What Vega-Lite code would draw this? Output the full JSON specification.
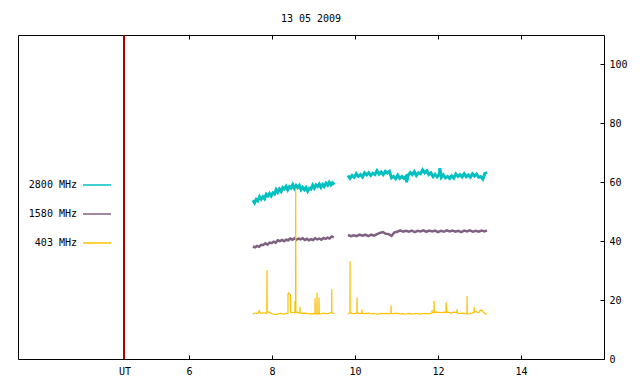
{
  "$schema": "https://vega.github.io/schema/vega-lite/v6.json",
  "width": 586,
  "height": 324,
  "autosize": "none",
  "padding": {"left": 18, "top": 35, "right": 36, "bottom": 25},
  "background": "white",
  "title": {"text": "13 05 2009", "font": "DejaVu Sans Mono", "fontSize": 10, "fontWeight": "normal", "color": "black", "offset": 11, "anchor": "middle"},
  "config": {
    "view": {"stroke": "black", "strokeWidth": 1},
    "axis": {"labelFont": "DejaVu Sans Mono", "labelFontSize": 10, "labelColor": "black", "tickColor": "black", "grid": false, "domain": false, "title": null},
    "legend": {"labelFont": "DejaVu Sans Mono", "labelFontSize": 10, "labelColor": "black"}
  },
  "data": {"values": [
    {"s":"2800 MHz","g":1,"t":7.54,"v":53.9},{"s":"2800 MHz","g":1,"t":7.58,"v":53.0},{"s":"2800 MHz","g":1,"t":7.62,"v":54.2},{"s":"2800 MHz","g":1,"t":7.66,"v":53.7},{"s":"2800 MHz","g":1,"t":7.70,"v":55.1},{"s":"2800 MHz","g":1,"t":7.74,"v":54.3},{"s":"2800 MHz","g":1,"t":7.78,"v":55.1},{"s":"2800 MHz","g":1,"t":7.82,"v":54.4},{"s":"2800 MHz","g":1,"t":7.86,"v":55.9},{"s":"2800 MHz","g":1,"t":7.90,"v":55.3},
    {"s":"2800 MHz","g":1,"t":7.94,"v":56.2},{"s":"2800 MHz","g":1,"t":7.98,"v":55.4},{"s":"2800 MHz","g":1,"t":8.02,"v":56.4},{"s":"2800 MHz","g":1,"t":8.06,"v":56.0},{"s":"2800 MHz","g":1,"t":8.10,"v":57.5},{"s":"2800 MHz","g":1,"t":8.14,"v":56.6},{"s":"2800 MHz","g":1,"t":8.18,"v":57.7},{"s":"2800 MHz","g":1,"t":8.22,"v":56.9},{"s":"2800 MHz","g":1,"t":8.26,"v":58.2},{"s":"2800 MHz","g":1,"t":8.30,"v":57.7},
    {"s":"2800 MHz","g":1,"t":8.34,"v":58.6},{"s":"2800 MHz","g":1,"t":8.38,"v":57.4},{"s":"2800 MHz","g":1,"t":8.42,"v":58.5},{"s":"2800 MHz","g":1,"t":8.46,"v":58.0},{"s":"2800 MHz","g":1,"t":8.50,"v":59.2},{"s":"2800 MHz","g":1,"t":8.54,"v":57.9},{"s":"2800 MHz","g":1,"t":8.58,"v":58.9},{"s":"2800 MHz","g":1,"t":8.62,"v":58.2},{"s":"2800 MHz","g":1,"t":8.66,"v":58.9},{"s":"2800 MHz","g":1,"t":8.70,"v":57.5},
    {"s":"2800 MHz","g":1,"t":8.74,"v":58.3},{"s":"2800 MHz","g":1,"t":8.78,"v":57.5},{"s":"2800 MHz","g":1,"t":8.82,"v":58.2},{"s":"2800 MHz","g":1,"t":8.86,"v":57.0},{"s":"2800 MHz","g":1,"t":8.90,"v":58.0},{"s":"2800 MHz","g":1,"t":8.94,"v":57.7},{"s":"2800 MHz","g":1,"t":8.98,"v":59.0},{"s":"2800 MHz","g":1,"t":9.02,"v":58.0},{"s":"2800 MHz","g":1,"t":9.06,"v":59.1},{"s":"2800 MHz","g":1,"t":9.10,"v":58.6},
    {"s":"2800 MHz","g":1,"t":9.14,"v":59.4},{"s":"2800 MHz","g":1,"t":9.18,"v":58.3},{"s":"2800 MHz","g":1,"t":9.22,"v":59.3},{"s":"2800 MHz","g":1,"t":9.26,"v":58.6},{"s":"2800 MHz","g":1,"t":9.30,"v":59.7},{"s":"2800 MHz","g":1,"t":9.34,"v":59.0},{"s":"2800 MHz","g":1,"t":9.38,"v":60.0},{"s":"2800 MHz","g":1,"t":9.42,"v":59.1},{"s":"2800 MHz","g":1,"t":9.46,"v":59.8},{"s":"2800 MHz","g":1,"t":9.50,"v":59.2},
    {"s":"2800 MHz","g":2,"t":9.83,"v":62.3},{"s":"2800 MHz","g":2,"t":9.88,"v":61.3},{"s":"2800 MHz","g":2,"t":9.93,"v":62.3},{"s":"2800 MHz","g":2,"t":9.98,"v":61.7},{"s":"2800 MHz","g":2,"t":10.03,"v":62.9},{"s":"2800 MHz","g":2,"t":10.08,"v":62.0},{"s":"2800 MHz","g":2,"t":10.13,"v":62.6},{"s":"2800 MHz","g":2,"t":10.18,"v":61.8},{"s":"2800 MHz","g":2,"t":10.23,"v":63.2},{"s":"2800 MHz","g":2,"t":10.28,"v":62.5},
    {"s":"2800 MHz","g":2,"t":10.33,"v":63.2},{"s":"2800 MHz","g":2,"t":10.38,"v":62.3},{"s":"2800 MHz","g":2,"t":10.43,"v":63.1},{"s":"2800 MHz","g":2,"t":10.48,"v":62.6},{"s":"2800 MHz","g":2,"t":10.53,"v":63.9},{"s":"2800 MHz","g":2,"t":10.58,"v":62.8},{"s":"2800 MHz","g":2,"t":10.63,"v":63.5},{"s":"2800 MHz","g":2,"t":10.68,"v":62.6},{"s":"2800 MHz","g":2,"t":10.73,"v":63.7},{"s":"2800 MHz","g":2,"t":10.78,"v":63.1},
    {"s":"2800 MHz","g":2,"t":10.83,"v":63.7},{"s":"2800 MHz","g":2,"t":10.88,"v":61.5},{"s":"2800 MHz","g":2,"t":10.93,"v":62.0},{"s":"2800 MHz","g":2,"t":10.98,"v":61.2},{"s":"2800 MHz","g":2,"t":11.03,"v":62.4},{"s":"2800 MHz","g":2,"t":11.08,"v":61.3},{"s":"2800 MHz","g":2,"t":11.13,"v":62.0},{"s":"2800 MHz","g":2,"t":11.18,"v":61.3},{"s":"2800 MHz","g":2,"t":11.23,"v":62.0},{"s":"2800 MHz","g":2,"t":11.245,"v":60.0},
    {"s":"2800 MHz","g":2,"t":11.28,"v":62.2},{"s":"2800 MHz","g":2,"t":11.33,"v":63.3},{"s":"2800 MHz","g":2,"t":11.38,"v":62.6},{"s":"2800 MHz","g":2,"t":11.43,"v":63.6},{"s":"2800 MHz","g":2,"t":11.48,"v":62.3},{"s":"2800 MHz","g":2,"t":11.53,"v":63.2},{"s":"2800 MHz","g":2,"t":11.58,"v":62.9},{"s":"2800 MHz","g":2,"t":11.63,"v":64.2},{"s":"2800 MHz","g":2,"t":11.68,"v":63.2},{"s":"2800 MHz","g":2,"t":11.73,"v":63.9},
    {"s":"2800 MHz","g":2,"t":11.78,"v":62.6},{"s":"2800 MHz","g":2,"t":11.83,"v":63.2},{"s":"2800 MHz","g":2,"t":11.88,"v":61.9},{"s":"2800 MHz","g":2,"t":11.93,"v":62.7},{"s":"2800 MHz","g":2,"t":11.98,"v":61.8},{"s":"2800 MHz","g":2,"t":12.03,"v":62.6},{"s":"2800 MHz","g":2,"t":12.045,"v":64.8},{"s":"2800 MHz","g":2,"t":12.08,"v":61.7},{"s":"2800 MHz","g":2,"t":12.13,"v":62.5},{"s":"2800 MHz","g":2,"t":12.18,"v":61.5},
    {"s":"2800 MHz","g":2,"t":12.23,"v":62.0},{"s":"2800 MHz","g":2,"t":12.28,"v":61.3},{"s":"2800 MHz","g":2,"t":12.33,"v":62.2},{"s":"2800 MHz","g":2,"t":12.38,"v":61.4},{"s":"2800 MHz","g":2,"t":12.43,"v":62.8},{"s":"2800 MHz","g":2,"t":12.48,"v":62.0},{"s":"2800 MHz","g":2,"t":12.53,"v":62.6},{"s":"2800 MHz","g":2,"t":12.58,"v":61.8},{"s":"2800 MHz","g":2,"t":12.63,"v":62.9},{"s":"2800 MHz","g":2,"t":12.68,"v":61.9},
    {"s":"2800 MHz","g":2,"t":12.73,"v":62.5},{"s":"2800 MHz","g":2,"t":12.78,"v":61.7},{"s":"2800 MHz","g":2,"t":12.83,"v":62.9},{"s":"2800 MHz","g":2,"t":12.88,"v":62.1},{"s":"2800 MHz","g":2,"t":12.93,"v":62.8},{"s":"2800 MHz","g":2,"t":12.98,"v":61.7},{"s":"2800 MHz","g":2,"t":13.03,"v":61.9},{"s":"2800 MHz","g":2,"t":13.08,"v":61.1},{"s":"2800 MHz","g":2,"t":13.13,"v":63.0},{"s":"2800 MHz","g":2,"t":13.18,"v":63.3},

    {"s":"1580 MHz","g":1,"t":7.54,"v":38.2},{"s":"1580 MHz","g":1,"t":7.59,"v":37.9},{"s":"1580 MHz","g":1,"t":7.64,"v":38.4},{"s":"1580 MHz","g":1,"t":7.69,"v":38.1},{"s":"1580 MHz","g":1,"t":7.74,"v":38.8},{"s":"1580 MHz","g":1,"t":7.79,"v":38.7},{"s":"1580 MHz","g":1,"t":7.84,"v":39.3},{"s":"1580 MHz","g":1,"t":7.89,"v":38.8},{"s":"1580 MHz","g":1,"t":7.94,"v":39.5},{"s":"1580 MHz","g":1,"t":7.99,"v":39.3},
    {"s":"1580 MHz","g":1,"t":8.04,"v":39.8},{"s":"1580 MHz","g":1,"t":8.09,"v":39.5},{"s":"1580 MHz","g":1,"t":8.14,"v":40.3},{"s":"1580 MHz","g":1,"t":8.19,"v":40.0},{"s":"1580 MHz","g":1,"t":8.24,"v":40.4},{"s":"1580 MHz","g":1,"t":8.29,"v":40.0},{"s":"1580 MHz","g":1,"t":8.34,"v":40.5},{"s":"1580 MHz","g":1,"t":8.39,"v":40.3},{"s":"1580 MHz","g":1,"t":8.44,"v":40.9},{"s":"1580 MHz","g":1,"t":8.49,"v":40.5},
    {"s":"1580 MHz","g":1,"t":8.54,"v":41.0},{"s":"1580 MHz","g":1,"t":8.59,"v":40.5},{"s":"1580 MHz","g":1,"t":8.64,"v":40.9},{"s":"1580 MHz","g":1,"t":8.69,"v":40.6},{"s":"1580 MHz","g":1,"t":8.74,"v":41.0},{"s":"1580 MHz","g":1,"t":8.79,"v":40.4},{"s":"1580 MHz","g":1,"t":8.84,"v":40.8},{"s":"1580 MHz","g":1,"t":8.89,"v":40.3},{"s":"1580 MHz","g":1,"t":8.94,"v":40.7},{"s":"1580 MHz","g":1,"t":8.99,"v":40.4},
    {"s":"1580 MHz","g":1,"t":9.04,"v":41.0},{"s":"1580 MHz","g":1,"t":9.09,"v":40.6},{"s":"1580 MHz","g":1,"t":9.14,"v":40.9},{"s":"1580 MHz","g":1,"t":9.19,"v":40.5},{"s":"1580 MHz","g":1,"t":9.24,"v":41.1},{"s":"1580 MHz","g":1,"t":9.29,"v":40.8},{"s":"1580 MHz","g":1,"t":9.34,"v":41.2},{"s":"1580 MHz","g":1,"t":9.39,"v":40.9},{"s":"1580 MHz","g":1,"t":9.44,"v":41.6},{"s":"1580 MHz","g":1,"t":9.49,"v":41.3},
    {"s":"1580 MHz","g":2,"t":9.83,"v":42.1},{"s":"1580 MHz","g":2,"t":9.90,"v":41.7},{"s":"1580 MHz","g":2,"t":9.97,"v":42.0},{"s":"1580 MHz","g":2,"t":10.04,"v":41.7},{"s":"1580 MHz","g":2,"t":10.11,"v":42.2},{"s":"1580 MHz","g":2,"t":10.18,"v":41.9},{"s":"1580 MHz","g":2,"t":10.25,"v":42.2},{"s":"1580 MHz","g":2,"t":10.32,"v":41.7},{"s":"1580 MHz","g":2,"t":10.39,"v":42.2},{"s":"1580 MHz","g":2,"t":10.46,"v":41.9},
    {"s":"1580 MHz","g":2,"t":10.53,"v":42.4},{"s":"1580 MHz","g":2,"t":10.60,"v":42.8},{"s":"1580 MHz","g":2,"t":10.67,"v":43.1},{"s":"1580 MHz","g":2,"t":10.74,"v":42.5},{"s":"1580 MHz","g":2,"t":10.81,"v":42.4},{"s":"1580 MHz","g":2,"t":10.88,"v":41.8},{"s":"1580 MHz","g":2,"t":10.95,"v":43.0},{"s":"1580 MHz","g":2,"t":11.02,"v":43.2},{"s":"1580 MHz","g":2,"t":11.09,"v":43.7},{"s":"1580 MHz","g":2,"t":11.16,"v":43.2},
    {"s":"1580 MHz","g":2,"t":11.23,"v":43.5},{"s":"1580 MHz","g":2,"t":11.30,"v":43.2},{"s":"1580 MHz","g":2,"t":11.37,"v":43.6},{"s":"1580 MHz","g":2,"t":11.44,"v":43.1},{"s":"1580 MHz","g":2,"t":11.51,"v":43.5},{"s":"1580 MHz","g":2,"t":11.58,"v":43.3},{"s":"1580 MHz","g":2,"t":11.65,"v":43.7},{"s":"1580 MHz","g":2,"t":11.72,"v":43.2},{"s":"1580 MHz","g":2,"t":11.79,"v":43.6},{"s":"1580 MHz","g":2,"t":11.86,"v":43.3},
    {"s":"1580 MHz","g":2,"t":11.93,"v":43.6},{"s":"1580 MHz","g":2,"t":12.00,"v":43.1},{"s":"1580 MHz","g":2,"t":12.07,"v":43.5},{"s":"1580 MHz","g":2,"t":12.14,"v":43.2},{"s":"1580 MHz","g":2,"t":12.21,"v":43.7},{"s":"1580 MHz","g":2,"t":12.28,"v":43.3},{"s":"1580 MHz","g":2,"t":12.35,"v":43.6},{"s":"1580 MHz","g":2,"t":12.42,"v":43.2},{"s":"1580 MHz","g":2,"t":12.49,"v":43.5},{"s":"1580 MHz","g":2,"t":12.56,"v":43.1},
    {"s":"1580 MHz","g":2,"t":12.63,"v":43.6},{"s":"1580 MHz","g":2,"t":12.70,"v":43.3},{"s":"1580 MHz","g":2,"t":12.77,"v":43.7},{"s":"1580 MHz","g":2,"t":12.84,"v":43.2},{"s":"1580 MHz","g":2,"t":12.91,"v":43.5},{"s":"1580 MHz","g":2,"t":12.98,"v":43.2},{"s":"1580 MHz","g":2,"t":13.05,"v":43.6},{"s":"1580 MHz","g":2,"t":13.12,"v":43.3},{"s":"1580 MHz","g":2,"t":13.18,"v":43.7},

    {"s":"403 MHz","g":1,"t":7.54,"v":15.3},{"s":"403 MHz","g":1,"t":7.60,"v":15.6},{"s":"403 MHz","g":1,"t":7.66,"v":15.4},{"s":"403 MHz","g":1,"t":7.69,"v":16.4},{"s":"403 MHz","g":1,"t":7.72,"v":15.5},{"s":"403 MHz","g":1,"t":7.78,"v":15.7},{"s":"403 MHz","g":1,"t":7.84,"v":15.6},{"s":"403 MHz","g":1,"t":7.875,"v":15.6},{"s":"403 MHz","g":1,"t":7.88,"v":30.2},{"s":"403 MHz","g":1,"t":7.885,"v":15.8},
    {"s":"403 MHz","g":1,"t":7.92,"v":16.0},{"s":"403 MHz","g":1,"t":7.98,"v":15.5},{"s":"403 MHz","g":1,"t":8.04,"v":15.2},{"s":"403 MHz","g":1,"t":8.10,"v":15.1},{"s":"403 MHz","g":1,"t":8.16,"v":15.4},{"s":"403 MHz","g":1,"t":8.22,"v":15.5},{"s":"403 MHz","g":1,"t":8.28,"v":15.2},{"s":"403 MHz","g":1,"t":8.34,"v":15.5},{"s":"403 MHz","g":1,"t":8.385,"v":15.5},{"s":"403 MHz","g":1,"t":8.387,"v":22.3},
    {"s":"403 MHz","g":1,"t":8.40,"v":22.4},{"s":"403 MHz","g":1,"t":8.42,"v":22.3},{"s":"403 MHz","g":1,"t":8.445,"v":21.6},{"s":"403 MHz","g":1,"t":8.448,"v":15.8},{"s":"403 MHz","g":1,"t":8.48,"v":15.7},{"s":"403 MHz","g":1,"t":8.55,"v":15.9},{"s":"403 MHz","g":1,"t":8.555,"v":19.7},{"s":"403 MHz","g":1,"t":8.56,"v":15.8},{"s":"403 MHz","g":1,"t":8.568,"v":16.0},{"s":"403 MHz","g":1,"t":8.572,"v":58.0},
    {"s":"403 MHz","g":1,"t":8.576,"v":16.0},{"s":"403 MHz","g":1,"t":8.60,"v":15.8},{"s":"403 MHz","g":1,"t":8.672,"v":15.6},{"s":"403 MHz","g":1,"t":8.676,"v":17.7},{"s":"403 MHz","g":1,"t":8.68,"v":15.7},{"s":"403 MHz","g":1,"t":8.72,"v":15.5},{"s":"403 MHz","g":1,"t":8.78,"v":15.6},{"s":"403 MHz","g":1,"t":8.84,"v":15.5},{"s":"403 MHz","g":1,"t":8.90,"v":15.3},{"s":"403 MHz","g":1,"t":8.96,"v":15.4},
    {"s":"403 MHz","g":1,"t":9.034,"v":15.3},{"s":"403 MHz","g":1,"t":9.038,"v":20.6},{"s":"403 MHz","g":1,"t":9.042,"v":15.3},{"s":"403 MHz","g":1,"t":9.082,"v":15.3},{"s":"403 MHz","g":1,"t":9.086,"v":22.5},{"s":"403 MHz","g":1,"t":9.09,"v":15.3},{"s":"403 MHz","g":1,"t":9.13,"v":15.4},{"s":"403 MHz","g":1,"t":9.134,"v":20.9},{"s":"403 MHz","g":1,"t":9.138,"v":15.4},{"s":"403 MHz","g":1,"t":9.18,"v":15.3},
    {"s":"403 MHz","g":1,"t":9.24,"v":15.6},{"s":"403 MHz","g":1,"t":9.30,"v":15.4},{"s":"403 MHz","g":1,"t":9.36,"v":15.5},{"s":"403 MHz","g":1,"t":9.436,"v":15.8},{"s":"403 MHz","g":1,"t":9.44,"v":23.7},{"s":"403 MHz","g":1,"t":9.444,"v":15.8},{"s":"403 MHz","g":1,"t":9.50,"v":15.4},
    {"s":"403 MHz","g":2,"t":9.83,"v":15.4},{"s":"403 MHz","g":2,"t":9.877,"v":15.6},{"s":"403 MHz","g":2,"t":9.881,"v":33.2},{"s":"403 MHz","g":2,"t":9.885,"v":15.8},{"s":"403 MHz","g":2,"t":9.93,"v":15.5},{"s":"403 MHz","g":2,"t":9.99,"v":15.4},{"s":"403 MHz","g":2,"t":10.046,"v":15.6},{"s":"403 MHz","g":2,"t":10.05,"v":20.9},{"s":"403 MHz","g":2,"t":10.054,"v":15.7},{"s":"403 MHz","g":2,"t":10.10,"v":15.5},
    {"s":"403 MHz","g":2,"t":10.167,"v":15.5},{"s":"403 MHz","g":2,"t":10.171,"v":16.8},{"s":"403 MHz","g":2,"t":10.175,"v":15.6},{"s":"403 MHz","g":2,"t":10.22,"v":15.4},{"s":"403 MHz","g":2,"t":10.28,"v":15.5},{"s":"403 MHz","g":2,"t":10.34,"v":15.6},{"s":"403 MHz","g":2,"t":10.40,"v":15.3},{"s":"403 MHz","g":2,"t":10.46,"v":15.5},{"s":"403 MHz","g":2,"t":10.52,"v":15.2},{"s":"403 MHz","g":2,"t":10.58,"v":15.3},
    {"s":"403 MHz","g":2,"t":10.64,"v":15.5},{"s":"403 MHz","g":2,"t":10.70,"v":15.4},{"s":"403 MHz","g":2,"t":10.76,"v":15.5},{"s":"403 MHz","g":2,"t":10.82,"v":15.3},{"s":"403 MHz","g":2,"t":10.866,"v":15.5},{"s":"403 MHz","g":2,"t":10.87,"v":18.2},{"s":"403 MHz","g":2,"t":10.874,"v":15.5},{"s":"403 MHz","g":2,"t":10.92,"v":15.4},{"s":"403 MHz","g":2,"t":10.98,"v":15.5},{"s":"403 MHz","g":2,"t":11.04,"v":15.5},
    {"s":"403 MHz","g":2,"t":11.10,"v":15.3},{"s":"403 MHz","g":2,"t":11.16,"v":15.4},{"s":"403 MHz","g":2,"t":11.22,"v":15.2},{"s":"403 MHz","g":2,"t":11.28,"v":15.5},{"s":"403 MHz","g":2,"t":11.34,"v":15.4},{"s":"403 MHz","g":2,"t":11.40,"v":15.2},{"s":"403 MHz","g":2,"t":11.46,"v":15.5},{"s":"403 MHz","g":2,"t":11.52,"v":15.4},{"s":"403 MHz","g":2,"t":11.58,"v":15.2},{"s":"403 MHz","g":2,"t":11.64,"v":15.5},
    {"s":"403 MHz","g":2,"t":11.70,"v":15.4},{"s":"403 MHz","g":2,"t":11.76,"v":15.3},{"s":"403 MHz","g":2,"t":11.82,"v":15.5},{"s":"403 MHz","g":2,"t":11.854,"v":15.6},{"s":"403 MHz","g":2,"t":11.858,"v":16.6},{"s":"403 MHz","g":2,"t":11.862,"v":15.7},{"s":"403 MHz","g":2,"t":11.902,"v":15.7},{"s":"403 MHz","g":2,"t":11.906,"v":19.7},{"s":"403 MHz","g":2,"t":11.91,"v":15.8},{"s":"403 MHz","g":2,"t":11.96,"v":15.9},
    {"s":"403 MHz","g":2,"t":12.02,"v":15.8},{"s":"403 MHz","g":2,"t":12.08,"v":15.7},{"s":"403 MHz","g":2,"t":12.14,"v":15.9},{"s":"403 MHz","g":2,"t":12.192,"v":15.8},{"s":"403 MHz","g":2,"t":12.196,"v":19.3},{"s":"403 MHz","g":2,"t":12.20,"v":16.0},{"s":"403 MHz","g":2,"t":12.206,"v":17.7},{"s":"403 MHz","g":2,"t":12.21,"v":15.9},{"s":"403 MHz","g":2,"t":12.26,"v":15.8},{"s":"403 MHz","g":2,"t":12.32,"v":15.6},
    {"s":"403 MHz","g":2,"t":12.38,"v":15.9},{"s":"403 MHz","g":2,"t":12.457,"v":15.8},{"s":"403 MHz","g":2,"t":12.461,"v":17.0},{"s":"403 MHz","g":2,"t":12.465,"v":15.7},{"s":"403 MHz","g":2,"t":12.52,"v":15.4},{"s":"403 MHz","g":2,"t":12.58,"v":15.6},{"s":"403 MHz","g":2,"t":12.64,"v":15.5},{"s":"403 MHz","g":2,"t":12.698,"v":15.4},{"s":"403 MHz","g":2,"t":12.702,"v":21.4},{"s":"403 MHz","g":2,"t":12.706,"v":15.3},
    {"s":"403 MHz","g":2,"t":12.76,"v":15.4},{"s":"403 MHz","g":2,"t":12.82,"v":15.6},{"s":"403 MHz","g":2,"t":12.867,"v":15.8},{"s":"403 MHz","g":2,"t":12.871,"v":17.7},{"s":"403 MHz","g":2,"t":12.875,"v":16.0},{"s":"403 MHz","g":2,"t":12.92,"v":16.1},{"s":"403 MHz","g":2,"t":12.98,"v":15.7},{"s":"403 MHz","g":2,"t":13.02,"v":16.6},{"s":"403 MHz","g":2,"t":13.06,"v":16.5},{"s":"403 MHz","g":2,"t":13.10,"v":15.8},
    {"s":"403 MHz","g":2,"t":13.14,"v":15.3},{"s":"403 MHz","g":2,"t":13.18,"v":15.2}
  ]},
  "resolve": {"axis": {"x": "independent"}},
  "encoding": {
    "y": {"field": "v", "type": "quantitative", "scale": {"domain": [0, 110], "nice": false, "zero": true},
      "axis": {"orient": "right", "values": [0, 20, 40, 60, 80, 100], "tickSize": -4, "labelPadding": 9}},
    "color": {"field": "s", "type": "nominal",
      "scale": {"domain": ["2800 MHz", "1580 MHz", "403 MHz"], "range": ["#00c0c0", "#7f6080", "#ffc000"]},
      "legend": {"orient": "none", "legendX": 64, "legendY": 135, "direction": "vertical", "title": null,
        "symbolType": "stroke", "symbolSize": 784, "symbolStrokeWidth": 1.5, "labelAlign": "right", "labelOffset": -35,
        "rowPadding": 9, "padding": 0}},
    "detail": {"field": "g", "type": "nominal"}
  },
  "layer": [
    {
      "mark": {"type": "rule", "color": "#b00000", "strokeWidth": 1},
      "encoding": {
        "x": {"datum": 4.446, "type": "quantitative", "scale": {"domain": [1.88, 16], "nice": false, "zero": false},
          "axis": {"orient": "top", "values": [6, 8, 10, 12, 14], "labels": false, "tickSize": -4, "domain": false}},
        "y": null, "color": null, "detail": null
      }
    },
    {
      "transform": [{"filter": "datum.s == '2800 MHz'"}],
      "mark": {"type": "line", "clip": true, "strokeWidth": 3},
      "encoding": {
        "x": {"field": "t", "type": "quantitative", "scale": {"domain": [1.88, 16], "nice": false, "zero": false},
          "axis": {"orient": "bottom", "values": [4.446, 6, 8, 10, 12, 14], "labelExpr": "datum.value < 5 ? 'UT' : format(datum.value, 'd')", "tickSize": -4, "labelPadding": 11, "labelFlush": false}}
      }
    },
    {
      "transform": [{"filter": "datum.s == '1580 MHz'"}],
      "mark": {"type": "line", "clip": true, "strokeWidth": 2.5},
      "encoding": {"x": {"field": "t", "type": "quantitative", "axis": null}}
    },
    {
      "transform": [{"filter": "datum.s == '403 MHz'"}],
      "mark": {"type": "line", "clip": true, "strokeWidth": 1.2},
      "encoding": {"x": {"field": "t", "type": "quantitative", "axis": null}}
    }
  ]
}
